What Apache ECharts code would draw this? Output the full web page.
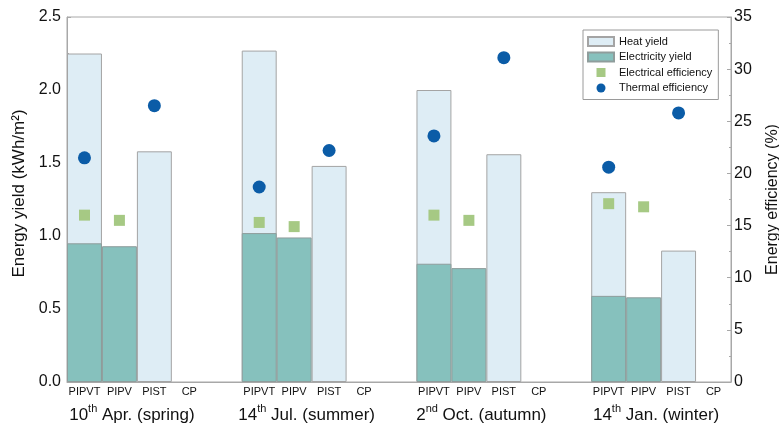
<!DOCTYPE html>
<html>
<head>
<meta charset="utf-8">
<script src="https://cdn.jsdelivr.net/npm/echarts@6/dist/echarts.min.js"></script>
<style>
  html, body { margin: 0; padding: 0; background: #fff; }
  #chart { width: 779px; height: 428px; }
</style>
</head>
<body>
<div id="chart"></div>
<script>
// Systems compared on each day, and the four test days
const systems = ['PIPVT', 'PIPV', 'PIST', 'CP'];
const dayNumbers = ['10', '14', '2', '14'];
const daySuffixes = ['th', 'th', 'nd', 'th'];
const dayRest = [' Apr. (spring)', ' Jul. (summer)', ' Oct. (autumn)', ' Jan. (winter)'];

// Daily yields, kWh/m² (one row per day, one entry per system)
const heatYield = [
  [2.25, null, 1.58, null],
  [2.27, null, 1.48, null],
  [2.00, null, 1.56, null],
  [1.30, null, 0.90, null]
];
const electricityYield = [
  [0.95, 0.93, null, null],
  [1.02, 0.99, null, null],
  [0.81, 0.78, null, null],
  [0.59, 0.58, null, null]
];

// Daily efficiencies, %
const electricalEfficiency = [
  [16.0, 15.5, null, null],
  [15.3, 14.9, null, null],
  [16.0, 15.5, null, null],
  [17.1, 16.8, null, null]
];
const thermalEfficiency = [
  [21.5, null, 26.5, null],
  [18.7, null, 22.2, null],
  [23.6, null, 31.1, null],
  [20.6, null, 25.8, null]
];

// Flatten per-day rows into one slot list, with an empty slot between days
function flatten(rows, gap) {
  const out = [];
  rows.forEach((row, i) => {
    row.forEach(v => out.push(v));
    if (i < rows.length - 1) out.push(gap === undefined ? null : gap);
  });
  return out;
}
const slotLabels = flatten(dayNumbers.map(() => systems), '');
const slotCount = slotLabels.length;
const firstCenter = systems.length / 2;           // middle of a day's group, in slot units
const groupStride = systems.length + 1;

const FONT = '"Liberation Sans", Arial, Helvetica, sans-serif';
const AXIS_GREY = '#a8a8a8';

const chart = echarts.init(document.getElementById('chart'), null, { renderer: 'canvas' });

chart.setOption({
  animation: false,
  textStyle: { fontFamily: FONT },
  grid: {
    left: 67, right: 48, top: 17, bottom: 46,
    outerBoundsMode: 'none',
    containLabel: false,
    show: true, borderColor: AXIS_GREY, borderWidth: 1, backgroundColor: 'transparent'
  },
  legend: {
    orient: 'vertical',
    left: 583, top: 30,
    borderColor: '#9a9a9a', borderWidth: 1,
    padding: [6, 6, 6, 4],
    itemWidth: 26, itemHeight: 9, itemGap: 4.5,
    textStyle: { fontSize: 11, color: '#111', fontFamily: FONT },
    data: [
      { name: 'Heat yield', icon: 'rect' },
      { name: 'Electricity yield', icon: 'rect' },
      { name: 'Electrical efficiency', icon: 'path://M0,0L10,0L10,10L0,10Z' },
      { name: 'Thermal efficiency', icon: 'circle' }
    ]
  },
  xAxis: [
    {
      type: 'category',
      data: slotLabels,
      boundaryGap: true,
      axisLine: { show: true, lineStyle: { color: AXIS_GREY } },
      axisTick: { show: false },
      axisLabel: {
        interval: 0, margin: 4,
        fontSize: 11, color: '#111', fontFamily: FONT
      },
      splitLine: { show: false }
    },
    {
      type: 'value',
      min: 0, max: slotCount,
      position: 'bottom',
      axisLine: { show: false },
      axisTick: { show: false },
      splitLine: { show: false },
      axisLabel: {
        customValues: dayNumbers.map((_, i) => firstCenter + i * groupStride),
        margin: 21,
        padding: [0, 10, 0, 0],
        formatter: v => {
          const i = Math.round((v - firstCenter) / groupStride);
          return '{n|' + dayNumbers[i] + '}{s|' + daySuffixes[i] + '}{n|' + dayRest[i] + '}';
        },
        rich: {
          n: { fontSize: 17, color: '#111', fontFamily: FONT, lineHeight: 21, verticalAlign: 'bottom' },
          s: { fontSize: 11, color: '#111', fontFamily: FONT, lineHeight: 21, verticalAlign: 'top' }
        }
      }
    }
  ],
  yAxis: [
    {
      type: 'value',
      min: 0, max: 2.5, interval: 0.5,
      name: 'Energy yield (kWh/m²)',
      nameLocation: 'middle', nameGap: 30,
      nameTextStyle: { fontSize: 17, color: '#111', fontFamily: FONT, padding: [0, 0, 0, 12] },
      axisLine: { show: true, lineStyle: { color: AXIS_GREY } },
      axisTick: { show: true, inside: true, length: 4, lineStyle: { color: AXIS_GREY } },
      minorTick: { show: true, splitNumber: 2, length: 2, lineStyle: { color: AXIS_GREY } },
      axisLabel: { fontSize: 16, color: '#111', margin: 6, fontFamily: FONT, formatter: v => v.toFixed(1) },
      splitLine: { show: false }
    },
    {
      type: 'value',
      min: 0, max: 35, interval: 5,
      name: 'Energy efficiency (%)',
      nameLocation: 'middle', nameGap: 34,
      nameTextStyle: { fontSize: 16, color: '#111', fontFamily: FONT },
      axisLine: { show: true, lineStyle: { color: AXIS_GREY } },
      axisTick: { show: true, inside: true, length: 4, lineStyle: { color: AXIS_GREY } },
      minorTick: { show: true, splitNumber: 2, length: 2, lineStyle: { color: AXIS_GREY } },
      axisLabel: { fontSize: 16, color: '#111', margin: 3, fontFamily: FONT },
      splitLine: { show: false }
    }
  ],
  series: [
    {
      name: 'Heat yield',
      type: 'bar',
      xAxisIndex: 0, yAxisIndex: 0,
      barWidth: '100%', barGap: '-100%',
      itemStyle: { color: '#deedf5', borderColor: '#a4a4a4', borderWidth: 1 },
      data: flatten(heatYield)
    },
    {
      name: 'Electricity yield',
      type: 'bar',
      xAxisIndex: 0, yAxisIndex: 0,
      barWidth: '100%', barGap: '-100%',
      itemStyle: { color: '#86c1bd', borderColor: '#8f9d9c', borderWidth: 1 },
      data: flatten(electricityYield)
    },
    {
      name: 'Electrical efficiency',
      type: 'scatter',
      xAxisIndex: 0, yAxisIndex: 1,
      symbol: 'rect', symbolSize: 11,
      itemStyle: { color: '#a6c984', opacity: 1 },
      data: flatten(electricalEfficiency)
    },
    {
      name: 'Thermal efficiency',
      type: 'scatter',
      xAxisIndex: 0, yAxisIndex: 1,
      symbol: 'circle', symbolSize: 13,
      itemStyle: { color: '#0b5ca7', opacity: 1 },
      data: flatten(thermalEfficiency)
    }
  ]
});
</script>
</body>
</html>
